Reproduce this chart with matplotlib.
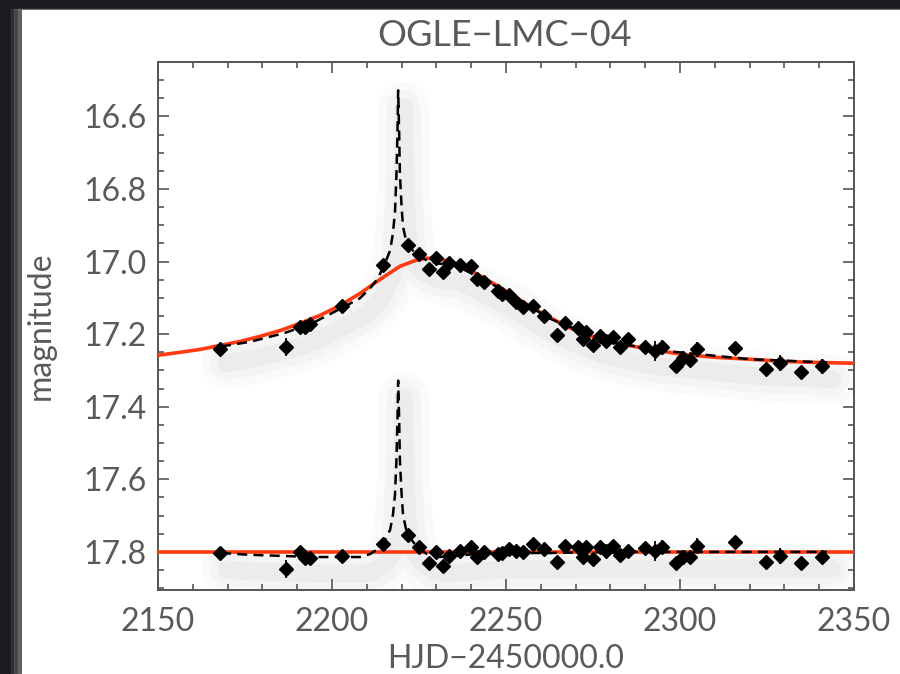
import matplotlib
matplotlib.use("Agg")
import matplotlib.pyplot as plt
import matplotlib.transforms as mtransforms
from matplotlib.patches import Rectangle
from matplotlib.ticker import MultipleLocator, FormatStrFormatter

# Data

# observation epochs (HJD - 2450000)
hjd = [2167.8, 2186.8, 2190.8, 2192.2, 2193.7, 2202.9, 2214.7, 2221.8, 2225.0,
       2227.9, 2229.9, 2231.9, 2233.6, 2236.8, 2239.9, 2241.7, 2243.7, 2247.7,
       2248.9, 2250.9, 2252.9, 2254.9, 2257.8, 2260.9, 2264.7, 2267.0, 2270.7,
       2272.1, 2273.0, 2275.0, 2277.0, 2278.7, 2280.7, 2282.8, 2285.1, 2289.9,
       2292.8, 2294.8, 2298.9, 2300.9, 2302.9, 2304.9, 2315.8, 2324.7, 2328.7,
       2334.8, 2340.8]

# observed magnitudes
mag = [17.242, 17.236, 17.179, 17.181, 17.173, 17.121, 17.010, 16.953, 16.980,
       17.021, 16.991, 17.030, 17.005, 17.008, 17.013, 17.049, 17.057, 17.082,
       17.090, 17.093, 17.110, 17.126, 17.121, 17.151, 17.201, 17.168, 17.184,
       17.212, 17.195, 17.231, 17.206, 17.220, 17.209, 17.236, 17.214, 17.234,
       17.247, 17.236, 17.289, 17.267, 17.272, 17.242, 17.239, 17.297, 17.280,
       17.305, 17.289]

# residuals from the point-lens fit, shifted to 17.8
resid = [17.803, 17.847, 17.800, 17.817, 17.817, 17.811, 17.778, 17.753, 17.786,
         17.830, 17.800, 17.839, 17.811, 17.797, 17.786, 17.814, 17.800, 17.806,
         17.803, 17.792, 17.797, 17.800, 17.778, 17.792, 17.828, 17.783, 17.786,
         17.814, 17.786, 17.819, 17.786, 17.797, 17.783, 17.808, 17.797, 17.789,
         17.797, 17.786, 17.830, 17.814, 17.814, 17.783, 17.772, 17.828, 17.811,
         17.830, 17.814]

err = [0.012, 0.025, 0.012, 0.012, 0.012, 0.012, 0.012, 0.012, 0.012,
       0.012, 0.012, 0.012, 0.012, 0.012, 0.012, 0.012, 0.012, 0.012,
       0.012, 0.012, 0.012, 0.012, 0.012, 0.012, 0.012, 0.012, 0.012,
       0.012, 0.012, 0.012, 0.012, 0.012, 0.012, 0.012, 0.012, 0.012,
       0.028, 0.020, 0.012, 0.020, 0.012, 0.020, 0.012, 0.012, 0.022,
       0.012, 0.020]

# point-lens fit (red)
fit_t = [2150.0, 2156.3, 2162.1, 2167.8, 2173.6, 2179.3, 2185.1, 2190.8, 2196.6,
         2202.3, 2208.0, 2213.8, 2219.5, 2223.9, 2226.7, 2229.6, 2233.9, 2238.8,
         2243.4, 2248.3, 2253.2, 2257.8, 2262.6, 2267.5, 2272.1, 2277.0, 2281.9,
         2291.4, 2300.9, 2310.6, 2320.1, 2329.6, 2339.4, 2350.0]
fit_m = [17.258, 17.250, 17.242, 17.231, 17.220, 17.206, 17.190, 17.170, 17.148,
         17.121, 17.088, 17.049, 17.013, 16.997, 16.991, 16.991, 16.999, 17.019,
         17.044, 17.071, 17.101, 17.129, 17.154, 17.179, 17.198, 17.214, 17.225,
         17.242, 17.256, 17.264, 17.269, 17.275, 17.278, 17.280]

# binary-lens fit (dashed), top panel
bin_t = [2168.1, 2176.4, 2185.9, 2193.7, 2203.2, 2208.0, 2210.9, 2213.2, 2215.2,
         2216.7, 2217.5, 2218.1, 2218.5, 2218.8, 2219.0, 2219.3, 2219.5, 2220.0,
         2220.4, 2221.3, 2222.4, 2224.4, 2227.3, 2231.0, 2235.3, 2241.1, 2248.3,
         2262.6, 2277.0, 2291.4, 2320.1, 2342.2]
bin_m = [17.234, 17.221, 17.198, 17.173, 17.126, 17.101, 17.074, 17.046, 17.005,
         16.969, 16.922, 16.862, 16.763, 16.651, 16.528, 16.648, 16.757, 16.851,
         16.904, 16.943, 16.961, 16.982, 16.997, 17.006, 17.009, 17.038, 17.074,
         17.157, 17.214, 17.242, 17.269, 17.278]

# binary-lens fit minus point-lens fit, shifted to 17.8
bin_r = [17.803, 17.808, 17.811, 17.814, 17.814, 17.814, 17.806, 17.792, 17.767,
         17.739, 17.698, 17.642, 17.548, 17.438, 17.328, 17.438, 17.548, 17.642,
         17.698, 17.739, 17.761, 17.786, 17.806, 17.814, 17.811, 17.806, 17.803,
         17.803, 17.800, 17.800, 17.800, 17.800]

base_t = [2150, 2350]
base_m = [17.8, 17.8]

txt = "#5a5a5a"
plt.rcParams["font.family"] = ["Lato", "DejaVu Sans"]

fig = plt.figure(figsize=(9, 6.74), dpi=100)
fig.patch.set_facecolor("#1c1c20")
# white panel with a soft dark edge
for i, a in enumerate([0.15, 0.25, 0.4]):
    fig.patches.append(Rectangle((0.024 - 0.004 * (3 - i), 0), 1, 0.986,
                                 transform=fig.transFigure, color="#888888",
                                 alpha=a, zorder=-3))
fig.patches.append(Rectangle((0.0244, 0), 1, 0.985, transform=fig.transFigure,
                             facecolor="white", edgecolor="none", zorder=-2))

ax = fig.add_axes([0.1756, 0.1246, 0.7733, 0.7834])
ax.set_zorder(2)
ax.set_facecolor("none")

# soft drop shadows under the curves
shadow = ax.transData + mtransforms.ScaledTranslation(4 / 72, -12 / 72,
                                                      fig.dpi_scale_trans)
for lw, a in [(36, 0.018), (24, 0.025), (13, 0.03)]:
    for xs, ys in [(bin_t, bin_m), (bin_t, bin_r)]:
        ax.plot(xs, ys, color="black", lw=lw, alpha=a, transform=shadow,
                solid_capstyle="round", zorder=1)

ax.plot(fit_t, fit_m, color="#ff3a10", lw=2.6, zorder=3)
ax.plot(base_t, base_m, color="#ff3a10", lw=2.6, zorder=3)
ax.plot(bin_t, bin_m, color="black", lw=1.8, ls=(0, (4, 2.5)), zorder=4)
ax.plot(bin_t, bin_r, color="black", lw=1.8, ls=(0, (4, 2.5)), zorder=4)

ax.errorbar(hjd, mag, yerr=err, fmt="D", color="black", ms=7.5, elinewidth=1.3,
            capsize=0, zorder=5)
ax.errorbar(hjd, resid, yerr=err, fmt="D", color="black", ms=7.5,
            elinewidth=1.3, capsize=0, zorder=5)

ax.set_xlim(2150, 2350)
ax.set_ylim(17.905, 16.45)
ax.xaxis.set_major_locator(MultipleLocator(50))
ax.xaxis.set_minor_locator(MultipleLocator(10))
ax.yaxis.set_major_locator(MultipleLocator(0.2))
ax.yaxis.set_minor_locator(MultipleLocator(0.05))
ax.yaxis.set_major_formatter(FormatStrFormatter("%.1f"))
ax.tick_params(which="both", direction="in", top=True, right=True,
               colors="#555555", labelcolor=txt, labelsize=23, width=1.2)
ax.tick_params(which="major", length=8)
ax.tick_params(which="minor", length=4.5)
ax.tick_params(axis="x", pad=12)
ax.tick_params(axis="y", pad=8)
for s in ax.spines.values():
    s.set_color("#555555")
    s.set_linewidth(1.4)

ax.set_xlabel("HJD\u22122450000.0", fontsize=23, color=txt, labelpad=5)
ax.set_ylabel("magnitude", fontsize=23, color=txt, labelpad=20)
fig.text(0.561, 0.948, "OGLE\u2212LMC\u221204", fontsize=26, color=txt,
         ha="center", va="center")

fig.savefig("out.png", dpi=100, facecolor=fig.get_facecolor())
